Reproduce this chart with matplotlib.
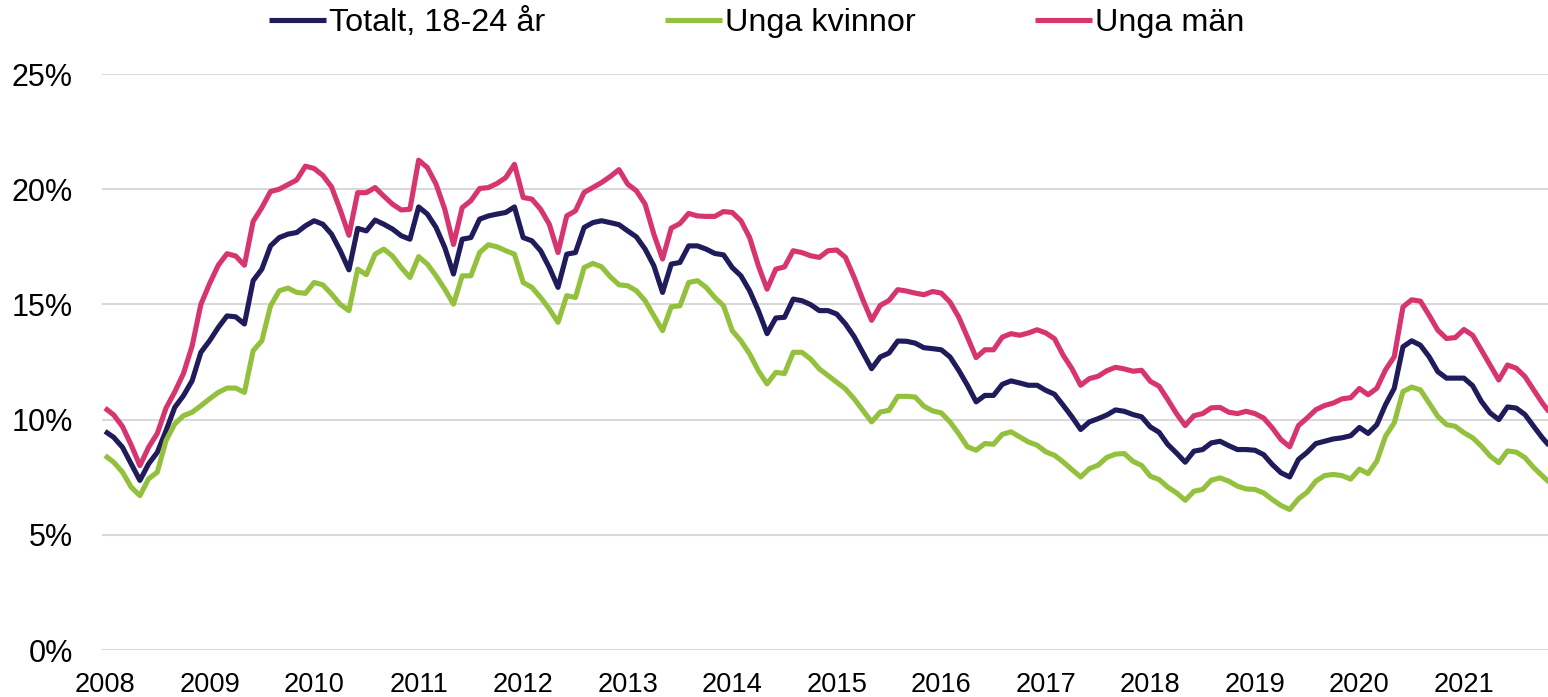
import numpy as np
import matplotlib
matplotlib.use("Agg")
import matplotlib.pyplot as plt
from matplotlib.ticker import FuncFormatter

plt.rcParams['font.family'] = ['Liberation Sans', 'DejaVu Sans']

# Monthly series, Jan 2008 onwards (percent)
totalt = [9.49, 9.23, 8.8, 8.08, 7.36, 8.08, 8.58, 9.52, 10.53, 11.04, 11.69, 12.92,
          13.42, 14.0, 14.5, 14.46, 14.15, 16.03, 16.53, 17.54, 17.9, 18.05, 18.12, 18.41,
          18.63, 18.48, 18.05, 17.33, 16.5, 18.3, 18.19, 18.66, 18.48, 18.27, 17.98, 17.83,
          19.23, 18.92, 18.34, 17.47, 16.32, 17.83, 17.9, 18.7, 18.84, 18.92, 18.99, 19.23,
          17.9, 17.76, 17.33, 16.6, 15.74, 17.18, 17.25, 18.34, 18.55, 18.63, 18.55, 18.46,
          18.19, 17.93, 17.4, 16.68, 15.52, 16.75, 16.82, 17.54, 17.54, 17.4, 17.21, 17.15,
          16.6, 16.24, 15.59, 14.73, 13.73, 14.41, 14.44, 15.23, 15.16, 14.99, 14.73, 14.73,
          14.58, 14.15, 13.6, 12.9, 12.21, 12.72, 12.89, 13.41, 13.4, 13.32, 13.12, 13.08,
          13.03, 12.72, 12.14, 11.49, 10.77, 11.05, 11.05, 11.53, 11.68, 11.59, 11.49, 11.49,
          11.27, 11.1, 10.62, 10.12, 9.57, 9.9, 10.04, 10.2, 10.42, 10.36, 10.22, 10.12,
          9.68, 9.45, 8.92, 8.55, 8.15, 8.63, 8.7, 8.99, 9.06, 8.87, 8.7, 8.7,
          8.67, 8.48, 8.05, 7.69, 7.51, 8.27, 8.58, 8.96, 9.06, 9.16, 9.21, 9.3,
          9.66, 9.4, 9.78, 10.65, 11.36, 13.16, 13.42, 13.23, 12.73, 12.08, 11.8, 11.8,
          11.8, 11.47, 10.79, 10.29, 10.0, 10.55, 10.5, 10.22, 9.71, 9.21, 8.78]

kvinnor = [8.44, 8.15, 7.72, 7.07, 6.7, 7.43, 7.72, 9.09, 9.81, 10.17, 10.32, 10.6,
           10.9, 11.18, 11.37, 11.37, 11.18, 12.99, 13.42, 14.94, 15.59, 15.71, 15.52, 15.48,
           15.95, 15.85, 15.45, 15.0, 14.73, 16.53, 16.29, 17.18, 17.4, 17.1, 16.6, 16.17,
           17.07, 16.75, 16.24, 15.66, 15.01, 16.24, 16.24, 17.25, 17.59, 17.5, 17.33, 17.18,
           15.95, 15.74, 15.3, 14.8, 14.22, 15.38, 15.3, 16.6, 16.78, 16.63, 16.2, 15.85,
           15.81, 15.59, 15.16, 14.51, 13.86, 14.9, 14.94, 15.95, 16.03, 15.74, 15.3, 14.94,
           13.86, 13.42, 12.85, 12.12, 11.55, 12.05, 12.0, 12.92, 12.92, 12.63, 12.2, 11.91,
           11.62, 11.33, 10.9, 10.4, 9.9, 10.33, 10.4, 11.01, 11.01, 10.98, 10.58, 10.38,
           10.29, 9.9, 9.39, 8.82, 8.67, 8.96, 8.93, 9.36, 9.47, 9.25, 9.03, 8.89,
           8.6, 8.45, 8.16, 7.83, 7.51, 7.87, 8.02, 8.36, 8.5, 8.53, 8.19, 8.01,
           7.54, 7.4, 7.07, 6.82, 6.5, 6.89, 6.97, 7.37, 7.47, 7.33, 7.11, 6.99,
           6.97, 6.82, 6.53, 6.27, 6.1, 6.56, 6.85, 7.33, 7.57, 7.62, 7.57, 7.42,
           7.85, 7.66, 8.2, 9.28, 9.86, 11.22, 11.41, 11.29, 10.72, 10.14, 9.78, 9.71,
           9.43, 9.21, 8.85, 8.42, 8.13, 8.64, 8.59, 8.35, 7.92, 7.56, 7.2]

man = [10.5, 10.2, 9.7, 8.9, 8.0, 8.8, 9.4, 10.5, 11.2, 12.0, 13.2, 15.0,
       15.9, 16.7, 17.2, 17.1, 16.7, 18.6, 19.2, 19.9, 20.0, 20.2, 20.4, 21.0,
       20.9, 20.6, 20.1, 19.1, 18.0, 19.85, 19.85, 20.07, 19.7, 19.35, 19.1, 19.13,
       21.26, 20.94, 20.22, 19.13, 17.6, 19.2, 19.5, 20.03, 20.07, 20.25, 20.5, 21.08,
       19.64, 19.57, 19.13, 18.48, 17.25, 18.84, 19.06, 19.86, 20.07, 20.29, 20.55, 20.85,
       20.22, 19.93, 19.35, 18.05, 16.97, 18.31, 18.51, 18.95, 18.84, 18.82, 18.82, 19.03,
       18.99, 18.63, 17.9, 16.68, 15.66, 16.53, 16.63, 17.33, 17.25, 17.11, 17.04, 17.33,
       17.36, 17.04, 16.17, 15.2, 14.31, 14.96, 15.17, 15.64, 15.58, 15.49, 15.42, 15.56,
       15.49, 15.1, 14.45, 13.58, 12.69, 13.03, 13.03, 13.58, 13.73, 13.66, 13.76, 13.9,
       13.76, 13.51, 12.79, 12.21, 11.49, 11.78, 11.88, 12.12, 12.27, 12.2, 12.1, 12.14,
       11.66, 11.45, 10.87, 10.26, 9.74, 10.17, 10.26, 10.51, 10.53, 10.32, 10.26, 10.36,
       10.26, 10.07, 9.64, 9.13, 8.82, 9.74, 10.07, 10.43, 10.61, 10.72, 10.9, 10.95,
       11.35, 11.08, 11.36, 12.16, 12.73, 14.89, 15.2, 15.14, 14.53, 13.88, 13.52, 13.56,
       13.91, 13.66, 13.02, 12.37, 11.72, 12.37, 12.23, 11.87, 11.29, 10.72, 10.22]

years = ['2008', '2009', '2010', '2011', '2012', '2013', '2014',
         '2015', '2016', '2017', '2018', '2019', '2020', '2021']
series_labels = ['Totalt, 18-24 år', 'Unga kvinnor', 'Unga män']
colors = ['#201c5c', '#93c13e', '#d7356f']

fig = plt.figure(figsize=(15.48, 6.97), dpi=100)
ax = fig.add_axes([102 / 1548, 1 - 650 / 697, 1446 / 1548, 576 / 697])

x = np.arange(len(totalt))
for vals, lab, col in zip([totalt, kvinnor, man], series_labels, colors):
    ax.plot(x, vals, color=col, lw=3.7, label=lab, solid_joinstyle='round',
            solid_capstyle='butt')

ax.set_ylim(0, 25)
ax.set_xlim(-0.35, 165.65)
ax.set_yticks(np.arange(0, 26, 5))
ax.yaxis.set_major_formatter(FuncFormatter(lambda v, p: f"{v:.0f}%"))
ax.set_xticks(np.arange(0, 12 * len(years), 12))
ax.set_xticklabels(years)

ax.grid(axis='y', color='#d9d9d9', lw=1.5)
ax.set_axisbelow(True)
for s in ax.spines.values():
    s.set_visible(False)
ax.tick_params(axis='y', length=0, pad=21, labelsize=22, colors='black')
ax.tick_params(axis='x', length=0, pad=16, labelsize=19.6, colors='black')

leg = fig.legend(loc='center', bbox_to_anchor=(757 / 1548, 1 - 23 / 697), ncol=3,
                 frameon=False, fontsize=23.3, handlelength=1.75, handletextpad=0.1,
                 columnspacing=3.7, borderpad=0, borderaxespad=0)

fig.savefig('out.png', dpi=100)
